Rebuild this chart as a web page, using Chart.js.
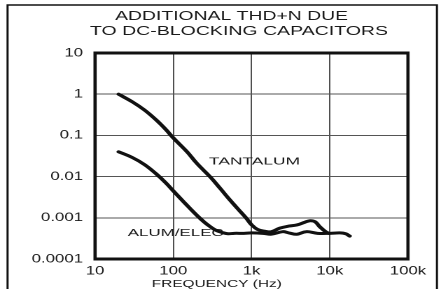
<!DOCTYPE html>
<html>
<head>
<meta charset="utf-8">
<script src="https://cdn.jsdelivr.net/npm/chart.js@4/dist/chart.umd.min.js"></script>
<style>
  html, body { margin: 0; padding: 0; background: #fff; }
</style>
</head>
<body>
<!-- the original artwork is horizontally stretched, so the canvas is drawn narrow and widened -->
<canvas id="thdChart" width="315" height="289" style="width:441px;height:289px;display:block"></canvas>
<script>
// Chart data
const tantalumFreq = [20, 30, 43, 60, 80, 100, 150, 200, 300, 400, 540, 700, 850, 1000, 1200, 1500, 1800, 2300, 3000, 3800, 4800, 5600, 6500, 7500, 9000, 9800];
const tantalumThd = [1.0, 0.65, 0.41, 0.24, 0.14, 0.087, 0.04, 0.021, 0.0096, 0.0051, 0.0026, 0.0015, 0.001, 0.00068, 0.00052, 0.00047, 0.00046, 0.00056, 0.00063, 0.00067, 0.00078, 0.00085, 0.0008, 0.0006, 0.00045, 0.00042];

const alumFreq = [20, 30, 43, 60, 80, 100, 150, 200, 250, 300, 350, 420, 500, 600, 800, 1000, 1400, 1800, 2500, 3000, 3800, 5000, 7000, 10000, 13500, 16000, 18000];
const alumThd = [0.04, 0.029, 0.0195, 0.0118, 0.0071, 0.0045, 0.002, 0.00115, 0.00078, 0.0006, 0.0005, 0.00044, 0.00041, 0.00042, 0.00042, 0.00043, 0.00042, 0.0004, 0.00046, 0.00043, 0.0004, 0.00046, 0.00042, 0.00042, 0.00043, 0.00041, 0.00036];

const xTicks = [10, 100, 1000, 10000, 100000];
const xTickLabels = ['10', '100', '1k', '10k', '100k'];
const yTicks = [0.0001, 0.001, 0.01, 0.1, 1, 10];
const yTickLabels = ['0.0001', '0.001', '0.01', '0.1', '1', '10'];

const FONT = '"Liberation Sans", Arial, sans-serif';

function toPoints(xs, ys) {
    return xs.map((x, i) => ({ x: x, y: ys[i] }));
}

// draw text squeezed/widened to a given width
function fitText(ctx, text, x, y, size, width, align) {
    ctx.font = size + 'px ' + FONT;
    const k = width / ctx.measureText(text).width;
    ctx.save();
    ctx.translate(x, y);
    ctx.scale(k, 1);
    ctx.textAlign = align;
    ctx.textBaseline = 'alphabetic';
    ctx.fillStyle = '#1a1a1a';
    ctx.fillText(text, 0, 0);
    ctx.restore();
}

const decorations = {
    id: 'decorations',
    beforeDatasetsDraw(chart) {
        const ctx = chart.ctx;
        // curve labels (the curve runs over the end of ALUM/ELEC)
        fitText(ctx, 'TANTALUM', 149.3, 164.5, 10, 65, 'left');
        fitText(ctx, 'ALUM/ELEC', 91.2, 236, 10, 68.6, 'left');
    },
    afterDraw(chart) {
        const ctx = chart.ctx;
        const a = chart.chartArea;
        ctx.save();
        ctx.strokeStyle = '#111';
        // outer frame, open at the bottom
        ctx.lineWidth = 1.5;
        ctx.beginPath();
        ctx.moveTo(5.4, 289); ctx.lineTo(5.4, 5); ctx.lineTo(312.1, 5); ctx.lineTo(312.1, 289);
        ctx.stroke();
        // heavy plot border
        ctx.lineWidth = 3;
        ctx.beginPath();
        ctx.moveTo(a.left, a.top); ctx.lineTo(a.right, a.top);
        ctx.moveTo(a.left, a.bottom); ctx.lineTo(a.right, a.bottom);
        ctx.stroke();
        ctx.lineWidth = 2.3;
        ctx.beginPath();
        ctx.moveTo(a.left, a.top - 1.5); ctx.lineTo(a.left, a.bottom + 1.5);
        ctx.moveTo(a.right, a.top - 1.5); ctx.lineTo(a.right, a.bottom + 1.5);
        ctx.stroke();
        ctx.restore();

        fitText(ctx, 'ADDITIONAL THD+N DUE', 165.4, 20, 13, 166.4, 'center');
        fitText(ctx, 'TO DC-BLOCKING CAPACITORS', 170.7, 35, 13, 212.9, 'center');
        fitText(ctx, 'FREQUENCY (Hz)', 108.4, 287, 10, 92.9, 'left');
    }
};

const lineStyle = {
    borderColor: '#111',
    borderWidth: 3,
    pointRadius: 0,
    fill: false,
    tension: 0.4,
    borderCapStyle: 'round',
    borderJoinStyle: 'round'
};

new Chart(document.getElementById('thdChart'), {
    type: 'line',
    data: {
        datasets: [
            Object.assign({ label: 'TANTALUM', data: toPoints(tantalumFreq, tantalumThd) }, lineStyle),
            Object.assign({ label: 'ALUM/ELEC', data: toPoints(alumFreq, alumThd) }, lineStyle)
        ]
    },
    options: {
        responsive: false,
        devicePixelRatio: 2,
        animation: false,
        layout: { padding: { left: 0, right: 23.6, top: 53, bottom: 0 } },
        plugins: {
            legend: { display: false },
            title: { display: false },
            tooltip: { enabled: false }
        },
        scales: {
            x: {
                type: 'logarithmic',
                min: 10,
                max: 100000,
                afterBuildTicks: s => { s.ticks = xTicks.map(v => ({ value: v })); },
                afterFit: s => { s.height = 30; },
                border: { display: false },
                grid: { color: '#222', lineWidth: 0.8, drawTicks: false },
                ticks: {
                    autoSkip: false,
                    maxRotation: 0,
                    padding: 5,
                    color: '#1a1a1a',
                    font: { family: FONT, size: 12 },
                    callback: (v) => xTickLabels[xTicks.indexOf(v)]
                }
            },
            y: {
                type: 'logarithmic',
                min: 0.0001,
                max: 10,
                afterBuildTicks: s => { s.ticks = yTicks.map(v => ({ value: v })); },
                afterFit: s => { s.width = 67.9; },
                border: { display: false },
                grid: { color: '#555', lineWidth: 1, drawTicks: false },
                ticks: {
                    autoSkip: false,
                    padding: 8.6,
                    color: '#1a1a1a',
                    font: { family: FONT, size: 12 },
                    callback: (v) => yTickLabels[yTicks.indexOf(v)]
                }
            }
        }
    },
    plugins: [decorations]
});
</script>
</body>
</html>
